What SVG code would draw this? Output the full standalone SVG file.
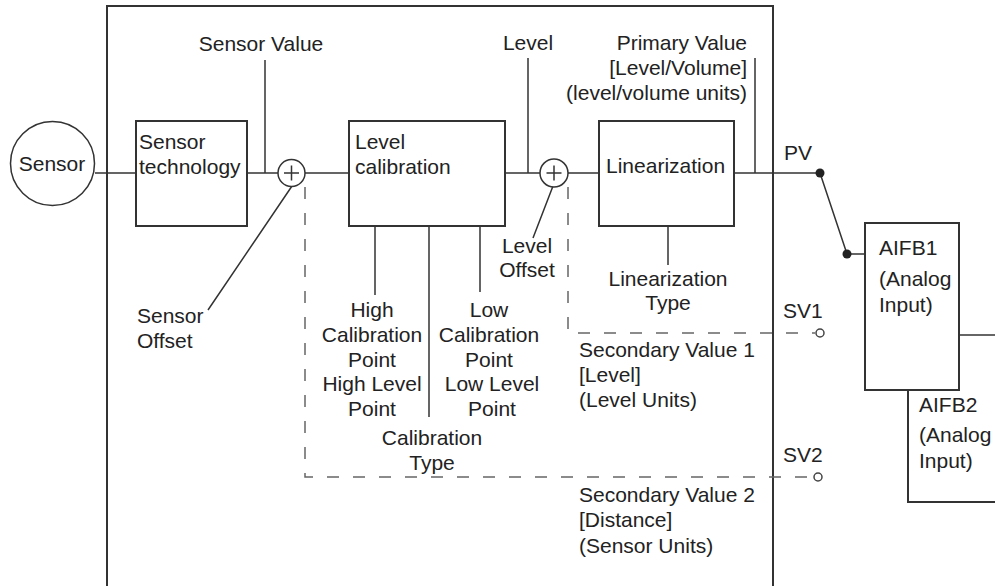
<svg xmlns="http://www.w3.org/2000/svg" width="995" height="586" viewBox="0 0 995 586">
<style>
text{font-family:"Liberation Sans",Arial,sans-serif;font-size:21px;fill:#222}
.box{fill:none;stroke:#333;stroke-width:2}
.ln{fill:none;stroke:#333;stroke-width:1.5}
.dash{fill:none;stroke:#666;stroke-width:1.5;stroke-dasharray:12 14}
.mid{text-anchor:middle}
.end{text-anchor:end}
</style>
<rect width="995" height="586" fill="#fff"/>
<g id="frame"><path class="box" d="M107 586V6H773V586"/></g>
<g id="connectors">
<path class="ln" d="M95 173H136M247 173H278M305 173H349M505 173H540M568 173H599M734 173H820"/>
<path class="ln" d="M265 60V173M528 58V173M755 58V173"/>
<path class="ln" d="M292 186L208 310M553 186L533 238"/>
<path class="ln" d="M375 226V295M429 226V417M480 226V292M668 226V265"/>
<path class="ln" d="M820 173L847 254H865"/>
<path class="ln" d="M959 335H995"/>
<path class="dash" d="M305 187V477H812"/>
<path class="dash" d="M568 187V333H815"/>
<circle cx="820" cy="173" r="4.5" fill="#222"/>
<circle cx="847" cy="254" r="4.5" fill="#222"/>
<circle cx="820" cy="333" r="4" fill="#fff" stroke="#444" stroke-width="1.5"/>
<circle cx="818" cy="477" r="4" fill="#fff" stroke="#444" stroke-width="1.5"/>
</g>
<g id="sensor"><circle cx="52.5" cy="163.5" r="42" fill="#fff" stroke="#333" stroke-width="1.5"/><text x="52" y="171" class="mid">Sensor</text></g>
<g id="sensor-technology"><rect class="box" x="136" y="121" width="111" height="105"/><text x="139" y="149">Sensor</text><text x="139" y="174">technology</text></g>
<g id="sum1"><circle cx="291.5" cy="173" r="13.5" fill="#fff" stroke="#333" stroke-width="1.5"/><path class="ln" d="M284 173H299M291.5 165.5V180.5"/></g>
<g id="level-calibration"><rect class="box" x="349" y="121" width="156" height="105"/><text x="355" y="149">Level</text><text x="355" y="174">calibration</text></g>
<g id="sum2"><circle cx="554" cy="173" r="14" fill="#fff" stroke="#333" stroke-width="1.5"/><path class="ln" d="M546.5 173H561.5M554 165.5V180.5"/></g>
<g id="linearization"><rect class="box" x="599" y="121" width="135" height="105"/><text x="606" y="173">Linearization</text></g>
<g id="aifb1"><rect class="box" x="865" y="223" width="94" height="167"/><text x="879" y="255">AIFB1</text><text x="879" y="286">(Analog</text><text x="879" y="312">Input)</text></g>
<g id="aifb2"><path class="box" d="M908 390V502H995"/><text x="919" y="412">AIFB2</text><text x="919" y="442">(Analog</text><text x="919" y="468">Input)</text></g>
<g id="labels">
<text x="261" y="51" class="mid">Sensor Value</text>
<text x="528" y="50" class="mid">Level</text>
<text x="747" y="50" class="end">Primary Value</text>
<text x="747" y="75" class="end">[Level/Volume]</text>
<text x="747" y="100" class="end">(level/volume units)</text>
<text x="784" y="160">PV</text>
<text x="137" y="323">Sensor</text>
<text x="137" y="348">Offset</text>
<text x="527" y="253" class="mid">Level</text>
<text x="527" y="277" class="mid">Offset</text>
<text x="668" y="286" class="mid">Linearization</text>
<text x="668" y="310" class="mid">Type</text>
<text x="372" y="317" class="mid">High</text>
<text x="372" y="342" class="mid">Calibration</text>
<text x="372" y="367" class="mid">Point</text>
<text x="372" y="391" class="mid">High Level</text>
<text x="372" y="416" class="mid">Point</text>
<text x="489" y="317" class="mid">Low</text>
<text x="489" y="342" class="mid">Calibration</text>
<text x="489" y="367" class="mid">Point</text>
<text x="492" y="391" class="mid">Low Level</text>
<text x="492" y="416" class="mid">Point</text>
<text x="432" y="445" class="mid">Calibration</text>
<text x="432" y="470" class="mid">Type</text>
<text x="783" y="318">SV1</text>
<text x="783" y="462">SV2</text>
<text x="579" y="357">Secondary Value 1</text>
<text x="579" y="382">[Level]</text>
<text x="579" y="407">(Level Units)</text>
<text x="579" y="502">Secondary Value 2</text>
<text x="579" y="527">[Distance]</text>
<text x="579" y="553">(Sensor Units)</text>
</g>
</svg>
